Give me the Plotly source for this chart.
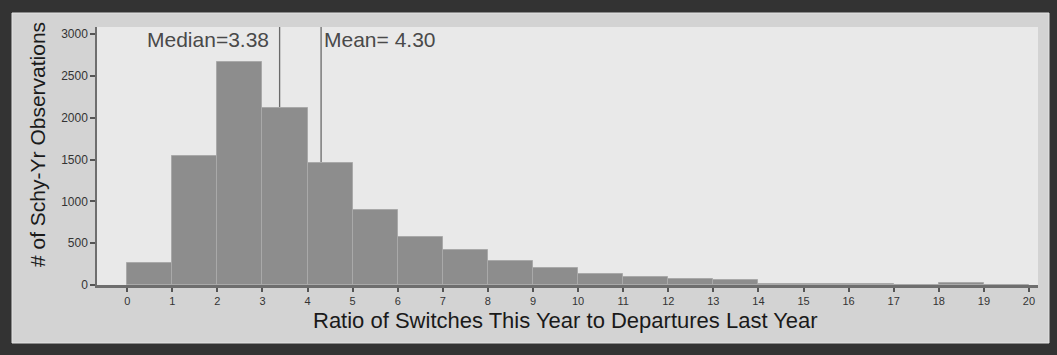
import plotly.graph_objects as go

# ---- data ----
bin_left = list(range(0, 20))
counts = [260, 1540, 2670, 2120, 1460, 900, 578, 414, 283, 199,
          128, 99, 72, 60, 12, 10, 8, 5, 20, 0]
x_ticks = list(range(0, 21))
y_ticks = [0, 500, 1000, 1500, 2000, 2500, 3000]
median_val = 3.38
mean_val = 4.30
median_label = "Median=3.38"
mean_label = "Mean= 4.30"
x_title = "Ratio of Switches This Year to Departures Last Year"
y_title = "# of Schy-Yr Observations"

# ---- layout geometry (pixels) ----
W, H = 1057, 355
ML, MR, MT, MB = 97, 19, 27, 70
PW = W - ML - MR
PH = H - MT - MB


def px_x(p):
    return (p - ML) / PW


def px_y(p):
    return (H - MB - p) / PH


FONT = "Liberation Sans, Arial, sans-serif"

centers = [b + 0.5 for b in bin_left]

fig = go.Figure()
fig.add_trace(go.Bar(
    x=centers, y=counts, width=1,
    marker=dict(color="#8d8d8d", line=dict(color="#a9a9a9", width=1)),
    hoverinfo="x+y", showlegend=False,
))

shapes = [
    # light panel
    dict(type="rect", xref="paper", yref="paper", layer="below",
         x0=px_x(12), x1=px_x(1049), y0=px_y(343), y1=px_y(13),
         fillcolor="#d3d3d3", line=dict(color="#e4e4e4", width=1)),
    # plot background
    dict(type="rect", xref="paper", yref="paper", layer="below",
         x0=0, x1=1, y0=0, y1=1,
         fillcolor="#e9e9e9", line=dict(width=0)),
    # median and mean lines
    dict(type="line", xref="x", yref="paper", layer="below",
         x0=median_val, x1=median_val, y0=0, y1=1,
         line=dict(color="#6a6a6a", width=1.3)),
    dict(type="line", xref="x", yref="paper", layer="below",
         x0=mean_val, x1=mean_val, y0=0, y1=1,
         line=dict(color="#6a6a6a", width=1.3)),
]

annotations = [
    dict(x=median_val, y=px_y(40), xref="x", yref="paper", text=median_label,
         showarrow=False, xanchor="right", yanchor="middle", xshift=-9,
         font=dict(family=FONT, size=21, color="#4a4a4a")),
    dict(x=mean_val, y=px_y(40), xref="x", yref="paper", text=mean_label,
         showarrow=False, xanchor="left", yanchor="middle", xshift=1,
         font=dict(family=FONT, size=21, color="#4a4a4a")),
    dict(x=px_x(565), y=px_y(320), xref="paper", yref="paper", text=x_title,
         showarrow=False, xanchor="center", yanchor="middle",
         font=dict(family=FONT, size=22, color="#1a1a1a")),
    dict(x=px_x(37), y=px_y(145), xref="paper", yref="paper", text=y_title,
         showarrow=False, xanchor="center", yanchor="middle", textangle=-90,
         font=dict(family=FONT, size=21, color="#1a1a1a")),
]

fig.update_layout(
    width=W, height=H,
    margin=dict(l=ML, r=MR, t=MT, b=MB, pad=0),
    paper_bgcolor="#333333",
    plot_bgcolor="rgba(0,0,0,0)",
    bargap=0,
    shapes=shapes,
    annotations=annotations,
    showlegend=False,
    xaxis=dict(
        range=[-0.67, 20.2], tickmode="array", tickvals=x_ticks,
        ticktext=[str(t) for t in x_ticks],
        ticks="outside", ticklen=4, tickwidth=1.5, tickcolor="#555555",
        showline=True, linecolor="#6e6e6e", linewidth=2.5,
        showgrid=False, zeroline=False,
        tickfont=dict(family=FONT, size=11, color="#333333"),
        fixedrange=True,
    ),
    yaxis=dict(
        range=[0, 3085], tickmode="array", tickvals=y_ticks,
        ticktext=[str(t) for t in y_ticks],
        ticks="outside", ticklen=5, tickwidth=1.5, tickcolor="#555555",
        showline=True, linecolor="#6e6e6e", linewidth=1.5,
        showgrid=False, zeroline=False,
        tickfont=dict(family=FONT, size=12, color="#333333"),
        fixedrange=True,
    ),
)

fig.write_html("out.html", config={"displayModeBar": False})
